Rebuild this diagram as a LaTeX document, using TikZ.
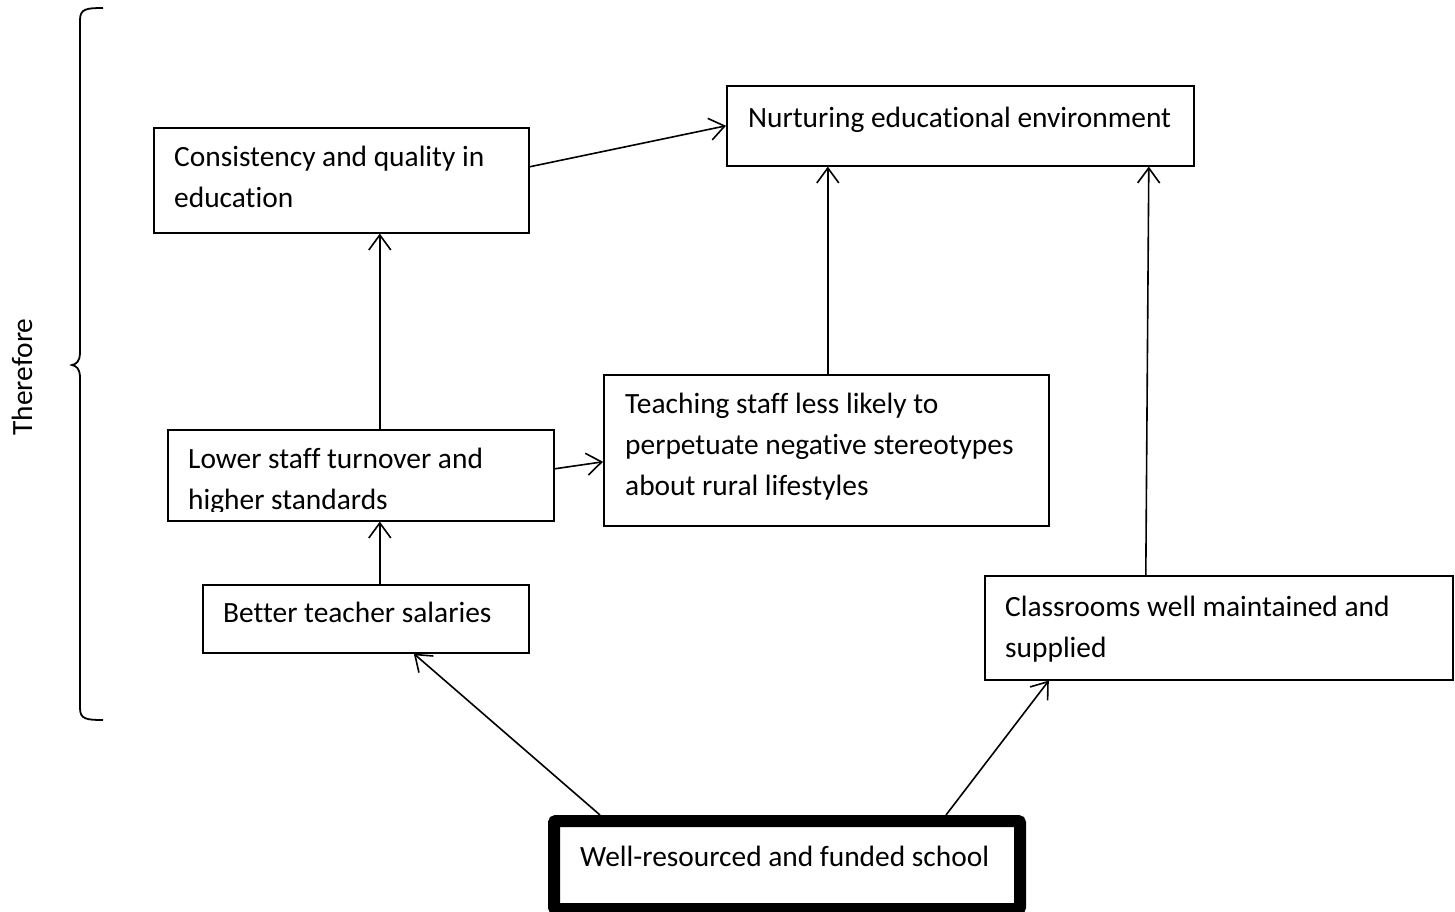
\documentclass[tikz,border=0pt]{standalone}
\usepackage{fontspec}
\setmainfont{Carlito}[RawFeature={-liga;-clig;-calt}]
\usetikzlibrary{arrows.meta}
\begin{document}
\begin{tikzpicture}[x=1pt,y=-1pt,
  box/.style={draw, line width=1.6pt, anchor=north west, inner sep=0pt, minimum width=#1},
  txt/.style={anchor=base west, inner sep=0pt, align=left, font=\fontsize{29.4}{41}\selectfont},
  arr/.style={line width=1.6pt, -{Straight Barb[length=15pt,width=22pt,line width=1.6pt]}}]
\useasboundingbox (0,0) rectangle (1455,911);
% brace and label
\draw[line width=1.8pt] (103,8) .. controls (86,8) and (80,9) .. (80,20) -- (80,352) .. controls (80,362) and (76,364) .. (72,365) .. controls (76,366) and (80,368) .. (80,378) -- (80,708) .. controls (80,719) and (86,720) .. (103,720);
\node[font=\fontsize{29.4}{41}\selectfont, rotate=90, inner sep=0pt] (there) at (22,377) {Therefore};
% boxes
\node[box=375pt, minimum height=105pt] (cons) at (153,127) {};
\node[box=467pt, minimum height=80pt] (nurt) at (726,85) {};
\node[box=386pt, minimum height=91pt] (low) at (167,429) {};
\node[box=445pt, minimum height=151pt] (teach) at (603,374) {};
\node[box=326pt, minimum height=68pt] (better) at (202,584) {};
\node[box=468pt, minimum height=104pt] (class) at (984,575) {};
\node[draw, line width=12pt, rounded corners=2pt, minimum width=466pt, minimum height=88pt, inner sep=0pt] (well) at (787,865) {};
% texts (base anchor = baseline of last line)
\node[txt] (const) at (174,207) {Consistency and quality in\\education};
\node[txt] (nurtt) at (748,127) {Nurturing educational environment};
\begin{scope}
\clip (167,429) rectangle (553,511);
\node[txt] (lowt) at (188,509) {Lower staff turnover and\\higher standards};
\end{scope}
\node[txt] (teacht) at (625,495) {Teaching staff less likely to\\perpetuate negative stereotypes\\about rural lifestyles};
\node[txt] (bettert) at (223,622) {Better teacher salaries};
\node[txt] (classt) at (1005,657) {Classrooms well maintained and\\supplied};
\node[txt] (wellt) at (580,866) {Well-resourced and funded school};
% connectors
\draw[arr] ([yshift=13.5pt]cons.east) -- (nurt.west);
\draw[arr] ([xshift=19pt]low.north) -- ([xshift=38.5pt]cons.south);
\draw[arr] ([yshift=6.5pt]low.east) -- ([yshift=-11.5pt]teach.west);
\draw[arr] ([xshift=1.5pt]teach.north) -- ([xshift=-132.5pt]nurt.south);
\draw[arr] ([xshift=-73pt]class.north) -- ([xshift=188.5pt]nurt.south);
\draw[arr] ([xshift=14pt]better.north) -- ([xshift=19pt]low.south);
\draw[arr] ([xshift=-187pt]well.north) -- ([xshift=48pt]better.south);
\draw[arr] ([xshift=159pt]well.north) -- ([xshift=-170pt]class.south);
\end{tikzpicture}
\end{document}
